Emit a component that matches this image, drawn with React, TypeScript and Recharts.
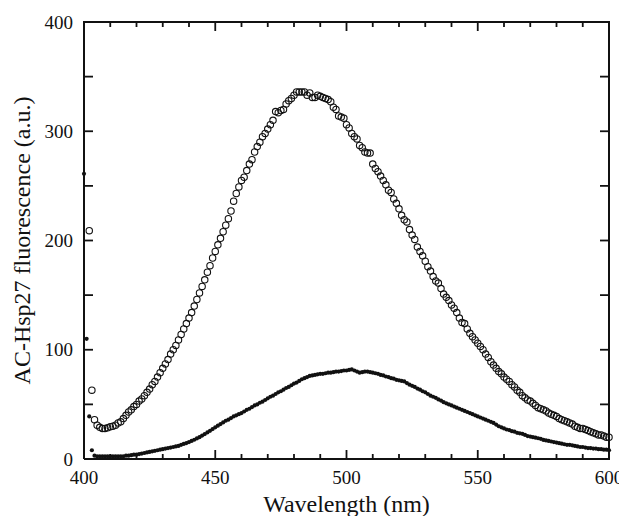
import { ScatterChart, Scatter, XAxis, YAxis, Label } from 'recharts'

// open circles (AC-Hsp27), 1 nm steps starting at 402 nm
const openStart = 402
const openValues = [
  209, 63, 36, 31, 29, 28, 28, 28.5, 29.5,
  30, 31, 33, 34, 37, 40, 43, 45, 48, 50,
  53, 55, 58, 61, 64, 68, 71, 75, 79, 83,
  87, 91, 96, 100, 104, 109, 114, 119, 124, 129,
  134, 140, 146, 152, 158, 164, 171, 177, 184, 190,
  196, 202, 208, 214, 220, 227, 236, 243, 249, 255,
  258, 264, 270, 274, 281, 286, 290, 295, 298, 302,
  306, 310, 318, 317, 319, 320, 325, 328, 330, 333,
  336, 336, 336, 336, 333, 335, 331, 331, 333, 332,
  331, 330, 329, 327, 322, 320, 314, 313, 312, 306,
  303, 298, 295, 293, 287, 285, 281, 280, 280, 270,
  266, 263, 259, 255, 251, 246, 244, 238, 234, 229,
  223, 219, 217, 210, 205, 201, 194, 190, 186, 181,
  176, 172, 167, 163, 161, 156, 151, 148, 145, 141,
  138, 134, 129, 125, 124, 119, 115, 112, 109, 106,
  103, 100, 96, 93, 89, 86, 83, 80, 78, 75,
  73, 71, 68, 66, 63, 61, 58, 56, 54, 53,
  51, 49, 47, 46, 45, 44, 42, 41, 40, 39,
  37, 36, 35, 34, 33, 32, 30, 29, 28, 28,
  27, 26, 25, 24, 23, 22, 22, 21, 20, 20,
]

// filled dots, 1 nm steps starting at 400 nm
const filledStart = 400
const filledValues = [
  261, 110, 39, 8, 3, 2.5, 2.5, 2.5, 2.5, 2.5, 2.5,
  2.5, 2.5, 2.5, 2.5, 2.5, 3, 3, 3.5, 4, 4,
  4.5, 5, 5.5, 6, 6.5, 7, 7.5, 8, 8.5, 9,
  9.5, 10, 10.5, 11, 11.5, 12, 13, 13.8, 14.6, 15.5,
  16.5, 17.6, 18.8, 20, 21.4, 22.8, 24.3, 25.8, 27.4, 29,
  30.5, 32, 33.5, 35, 36, 37.5, 39, 40, 41, 42,
  43.5, 45, 46, 47.5, 49, 50, 51.5, 52.5, 54, 55.5,
  57, 58, 59.5, 61, 62, 63.5, 65, 66, 67.5, 69,
  70, 71.5, 73, 74, 75, 76, 76.5, 77, 77.5, 78,
  78, 78.5, 79, 79, 79.5, 80, 80, 80.5, 81, 81,
  81.5, 82, 81, 80, 79, 79.5, 80, 80, 79.5, 79,
  78.5, 78, 77, 76.5, 75.5, 75, 74, 73.5, 72.5, 72,
  71.5, 71, 69.5, 68, 67, 66, 64.5, 63.5, 62, 61,
  59.5, 58, 57, 56, 54.5, 53.5, 52, 51, 50, 49,
  48, 47, 46, 45, 44, 43, 42, 41, 40, 39,
  38, 37, 36, 35, 34, 33, 31.5, 30, 29, 28,
  27, 26.5, 25.5, 25, 24, 23.5, 23, 22, 21, 20.5,
  20, 19.5, 19, 18.5, 17.5, 17, 16.5, 16, 15.5, 15,
  14.5, 14, 13.5, 13, 13, 12.5, 12, 11.5, 11, 11,
  10.5, 10, 10, 9.5, 9.5, 9, 9, 8.5, 8.5, 8,
]

const xTicks = [
  400, 410, 420, 430, 440, 450, 460, 470, 480, 490, 500,
  510, 520, 530, 540, 550, 560, 570, 580, 590, 600,
]
const yTicks = [0, 50, 100, 150, 200, 250, 300, 350, 400]
const xLabels = [400, 450, 500, 550, 600]
const yLabels = [0, 100, 200, 300, 400]
const xDomain = [400, 600]
const yDomain = [0, 400]

const openData = openValues.map((v, i) => ({ x: openStart + i, y: v }))
const filledData = filledValues.map((v, i) => ({ x: filledStart + i, y: v }))

// frame box and inward tick marks, placed through the same scales
const frame = [
  { x: xDomain[0], y: yDomain[0] },
  { x: xDomain[0], y: yDomain[1] },
  { x: xDomain[1], y: yDomain[1] },
  { x: xDomain[1], y: yDomain[0] },
  { x: xDomain[0], y: yDomain[0] },
]
const bottomTicks = xTicks.map((v) => ({ x: v, y: yDomain[0] }))
const topTicks = xTicks.map((v) => ({ x: v, y: yDomain[1] }))
const leftTicks = yTicks.map((v) => ({ x: xDomain[0], y: v }))
const rightTicks = yTicks.map((v) => ({ x: xDomain[1], y: v }))

const INK = '#111'
const FONT = '"Liberation Serif", "DejaVu Serif", serif'
const TW = 1.8

const xLen = (v: number) => (v % 50 === 0 ? 9 : 5)

// a tick is a short path starting on the frame and pointing inward
const Tick = ({ cx, cy, dx, dy }: any) => (
  <path d={`M${cx},${cy}L${cx + dx},${cy + dy}`} stroke={INK} strokeWidth={TW} fill="none" />
)
const UpTick = ({ cx, cy, payload }: any) => <Tick cx={cx} cy={cy} dx={0} dy={-xLen(payload.x)} />
const DownTick = ({ cx, cy, payload }: any) => <Tick cx={cx} cy={cy} dx={0} dy={xLen(payload.x)} />
const RightwardTick = ({ cx, cy }: any) => <Tick cx={cx} cy={cy} dx={9} dy={0} />
const LeftwardTick = ({ cx, cy }: any) => <Tick cx={cx} cy={cy} dx={-9} dy={0} />

const BottomLabel = ({ x, y, payload }: any) =>
  xLabels.includes(payload.value) ? (
    <text x={x} y={y + 18} textAnchor="middle" dominantBaseline="central"
      fontSize={19} fontFamily={FONT} fill={INK}>
      {payload.value}
    </text>
  ) : null

const LeftLabel = ({ x, y, payload }: any) =>
  yLabels.includes(payload.value) ? (
    <text x={x - 11} y={y} textAnchor="end" dominantBaseline="central"
      fontSize={19} fontFamily={FONT} fill={INK}>
      {payload.value}
    </text>
  ) : null

const OpenDot = ({ cx, cy }: any) => (
  <circle cx={cx} cy={cy} r={3.2} fill="none" stroke={INK} strokeWidth={1.1} />
)

const FilledDot = ({ cx, cy }: any) => <circle cx={cx} cy={cy} r={2.1} fill={INK} />

const NoDot = () => <g />

export default function App() {
  return (
    <ScatterChart width={619} height={508} margin={{ top: 14, right: 18, left: 0, bottom: 0 }}>
      <XAxis
        type="number"
        dataKey="x"
        domain={xDomain}
        ticks={xTicks}
        interval={0}
        height={57}
        tickSize={0}
        tickMargin={0}
        tickLine={false}
        axisLine={false}
        tick={<BottomLabel />}
      >
        <Label
          content={({ viewBox }: any) => (
            <text x={viewBox.x + viewBox.width / 2} y={496} textAnchor="middle"
              dominantBaseline="central" fontSize={24} fontFamily={FONT} fill={INK}>
              Wavelength (nm)
            </text>
          )}
        />
      </XAxis>
      <YAxis
        type="number"
        dataKey="y"
        domain={yDomain}
        ticks={yTicks}
        interval={0}
        width={76}
        tickSize={0}
        tickMargin={0}
        tickLine={false}
        axisLine={false}
        tick={<LeftLabel />}
      >
        <Label
          content={({ viewBox }: any) => {
            const cx = 14
            const cy = viewBox.y + viewBox.height / 2
            return (
              <text x={cx} y={cy} transform={`rotate(-90, ${cx}, ${cy})`} textAnchor="middle"
                dominantBaseline="central" fontSize={24} fontFamily={FONT} fill={INK}>
                AC-Hsp27 fluorescence (a.u.)
              </text>
            )
          }}
        />
      </YAxis>
      <Scatter data={filledData} shape={<FilledDot />} isAnimationActive={false} />
      <Scatter data={openData} shape={<OpenDot />} isAnimationActive={false} />
      <Scatter data={rightTicks} shape={<LeftwardTick />} isAnimationActive={false} />
      <Scatter data={leftTicks} shape={<RightwardTick />} isAnimationActive={false} />
      <Scatter data={bottomTicks} shape={<UpTick />} isAnimationActive={false} />
      <Scatter data={topTicks} shape={<DownTick />} isAnimationActive={false} />
      <Scatter
        data={frame}
        line={{ stroke: INK, strokeWidth: 2 }}
        lineJointType="linear"
        shape={<NoDot />}
        isAnimationActive={false}
      />
    </ScatterChart>
  )
}
